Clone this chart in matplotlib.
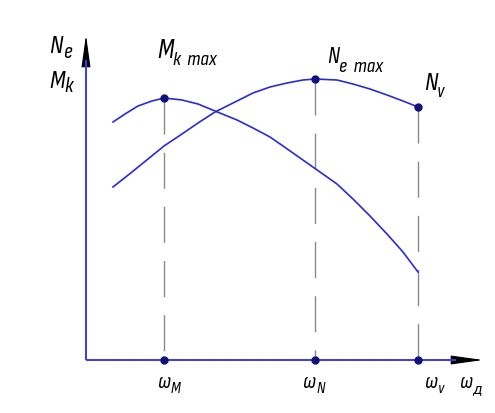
import matplotlib
matplotlib.use("Agg")
import matplotlib.pyplot as plt
from matplotlib.patches import FancyArrowPatch

# ---- data (engine speed characteristic, arbitrary units) ----
omega_torque = [27, 39, 52, 66, 78, 96, 112, 129, 151, 167, 184, 197, 234, 251, 267, 284, 301, 317, 332]
torque_Mk = [238, 246, 254, 259, 262, 260, 256, 249, 240, 232, 223, 214, 188, 176, 161, 144, 126, 108, 88]
omega_power = [27, 46, 62, 78, 96, 112, 129, 151, 167, 184, 201, 217, 229, 251, 267, 284, 301, 317, 332]
power_Ne = [173, 188, 201, 214, 226, 237, 248, 259, 267, 273, 277, 280, 281, 280, 276, 271, 265, 259, 253]

omega_M = 78     # speed of max torque
Mk_max = 262
omega_N = 229    # speed of max power
Ne_max = 281
omega_v = 332    # max speed
N_v = 253

BLUE = "#2b2bd6"
AXBLUE = "#3a3af0"
DOT = "#10107a"
GRAY = "#8a8a8a"

FONT = ["Sofia Sans Condensed", "DejaVu Sans"]

fig = plt.figure(figsize=(4.95, 4.14), dpi=100)
ax = fig.add_axes([0, 0, 1, 1])
ax.set_xlim(-86, 409)
ax.set_ylim(-53, 361)
ax.axis("off")

# axes lines
ax.plot([0, 0], [0, 300], color=AXBLUE, lw=1.4, solid_capstyle="butt")
ax.plot([0, 370], [0, 0], color=AXBLUE, lw=1.4, solid_capstyle="butt")
# arrow heads
for start, tip in [((0, 292), (0, 325)), ((362, 0), (397, 0))]:
    arr = FancyArrowPatch(start, tip, arrowstyle="-|>,head_length=2.0,head_width=0.28",
                          mutation_scale=10, color="black", lw=0.8,
                          shrinkA=0, shrinkB=0)
    ax.add_patch(arr)

# dashed verticals
for xv, yv in [(omega_M, Mk_max), (omega_N, Ne_max), (omega_v, N_v)]:
    ax.plot([xv, xv], [yv, 0], color=GRAY, lw=1.0, dashes=(26, 13))

# curves
ax.plot(omega_torque, torque_Mk, color=BLUE, lw=1.2, solid_joinstyle="round")
ax.plot(omega_power, power_Ne, color=BLUE, lw=1.2, solid_joinstyle="round")

# dots
ax.plot([omega_M, omega_N, omega_v], [Mk_max, Ne_max, N_v], "o", color=DOT, ms=5, zorder=5)
ax.plot([omega_M, omega_N, omega_v], [0, 0, 0], "o", color=DOT, ms=5, zorder=5)


def lab(px, py, s, size, family=FONT, style="italic"):
    ax.text(px - 86, 361 - py, s, fontsize=size, family=family, style=style,
            ha="left", va="baseline", color="black")


# y-axis labels
lab(49, 53, "N", 19)
lab(63, 58, "e", 16)
lab(49, 88, "M", 19)
lab(64, 92, "к", 16)
# point labels
lab(157, 58, "M", 20)
lab(173, 65, "к  max", 15)
lab(327, 63, "N", 17)
lab(339, 72, "e  max", 15)
lab(424, 90, "N", 19)
lab(437, 97, "v", 14)
# x-axis labels
lab(157, 388, "ω", 16)
lab(171, 393, "M", 12)
lab(302, 388, "ω", 16)
lab(316, 393, "N", 12)
lab(424, 388, "ω", 16)
lab(438, 393, "v", 12)
lab(459, 388, "ω", 16)
lab(472, 393, "д", 10, family=["DejaVu Sans"], style="oblique")

fig.savefig("out.png", dpi=100)
